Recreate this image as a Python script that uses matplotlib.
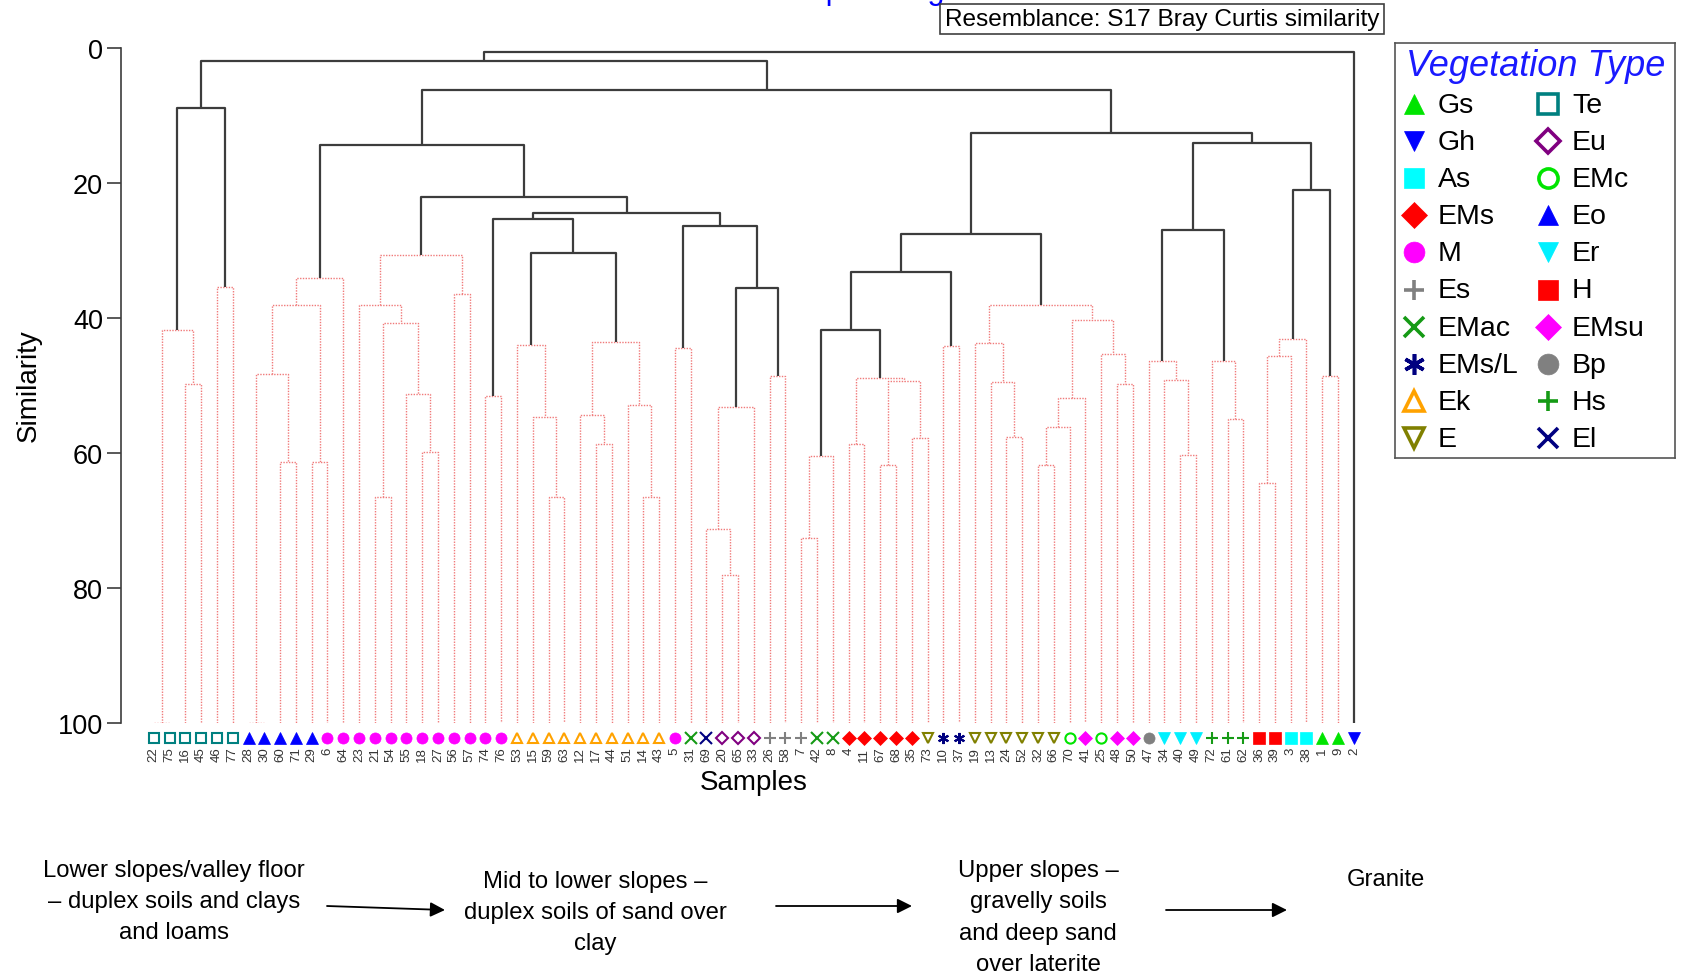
import matplotlib
matplotlib.use("Agg")
import matplotlib.pyplot as plt

W, H = 1682, 978

# ---------------- data ----------------
leaf_order = [22, 75, 16, 45, 46, 77, 28, 30, 60, 71, 29, 6, 64, 23, 21, 54, 55, 18, 27, 56,
              57, 74, 76, 53, 15, 59, 63, 12, 17, 44, 51, 14, 43, 5, 31, 69, 20, 65, 33, 26,
              58, 7, 42, 8, 4, 11, 67, 68, 35, 73, 10, 37, 19, 13, 24, 52, 32, 66, 70, 41,
              25, 48, 50, 47, 34, 40, 49, 72, 61, 62, 36, 39, 3, 38, 1, 9, 2]

leaf_type = ["Te", "Te", "Te", "Te", "Te", "Te",
             "Eo", "Eo", "Eo", "Eo", "Eo",
             "M", "M", "M", "M", "M", "M", "M", "M", "M", "M", "M", "M",
             "Ek", "Ek", "Ek", "Ek", "Ek", "Ek", "Ek", "Ek", "Ek", "Ek",
             "M", "EMac", "El", "Eu", "Eu", "Eu", "Es", "Es", "Es", "EMac", "EMac",
             "EMs", "EMs", "EMs", "EMs", "EMs", "E", "EMs/L", "EMs/L",
             "E", "E", "E", "E", "E", "E", "EMc", "EMsu", "EMc", "EMsu", "EMsu", "Bp",
             "Er", "Er", "Er", "Hs", "Hs", "Hs", "H", "H", "As", "As", "Gs", "Gs", "Gh"]

legend_col1 = ["Gs", "Gh", "As", "EMs", "M", "Es", "EMac", "EMs/L", "Ek", "E"]
legend_col2 = ["Te", "Eu", "EMc", "Eo", "Er", "H", "EMsu", "Bp", "Hs", "El"]

# marker, colour, filled
veg_style = {
    "Gs": ("^", "#00e400", True),
    "Gh": ("v", "#0000ff", True),
    "As": ("s", "#00ffff", True),
    "EMs": ("D", "#ff0000", True),
    "M": ("o", "#ff00ff", True),
    "Es": ("+", "#808080", True),
    "EMac": ("x", "#159a15", True),
    "EMs/L": ((6, 2, 0), "#000080", True),
    "Ek": ("^", "#ffa200", False),
    "E": ("v", "#808000", False),
    "Te": ("s", "#008080", False),
    "Eu": ("D", "#800080", False),
    "EMc": ("o", "#00e400", False),
    "Eo": ("^", "#0000ff", True),
    "Er": ("v", "#00f0ff", True),
    "H": ("s", "#ff0000", True),
    "EMsu": ("D", "#ff00ff", True),
    "Bp": ("o", "#808080", True),
    "Hs": ("+", "#159a15", True),
    "El": ("x", "#000080", True),
}

# (node, left child, right child, similarity %, significant split)
merges = [
    ("a1", 22, 75, 100.0, False), ("a2", 16, 45, 49.7, False), ("a3", "a1", "a2", 41.7, False),
    ("a4", 46, 77, 35.4, False), ("a5", "a3", "a4", 8.9, True),
    ("b1", 28, 30, 100.0, False), ("b2", 60, 71, 61.3, False), ("b3", "b1", "b2", 48.3, False),
    ("b4", 29, 6, 61.3, False), ("b5", "b3", "b4", 38.0, False), ("b6", "b5", 64, 34.1, False),
    ("c1", 21, 54, 66.5, False), ("c2", 18, 27, 59.9, False), ("c3", 55, "c2", 51.3, False),
    ("c4", "c1", "c3", 40.7, False), ("c5", 23, "c4", 38.0, False), ("c6", 56, 57, 36.4, False),
    ("c7", "c5", "c6", 30.7, False),
    ("e1", 74, 76, 51.5, False),
    ("d1", 59, 63, 66.5, False), ("d2", 15, "d1", 54.7, False), ("d3", 53, "d2", 44.0, False),
    ("d4", 17, 44, 58.7, False), ("d5", 12, "d4", 54.3, False), ("d6", 14, 43, 66.5, False),
    ("d7", 51, "d6", 52.9, False), ("d8", "d5", "d7", 43.5, False), ("d9", "d3", "d8", 30.3, True),
    ("e2", "e1", "d9", 25.3, True),
    ("f1", 5, 31, 44.4, False), ("f2", 20, 65, 78.1, False), ("f3", 69, "f2", 71.2, False),
    ("f4", "f3", 33, 53.2, False), ("f5", 26, 58, 48.6, False), ("f6", "f4", "f5", 35.5, True),
    ("f7", "f1", "f6", 26.4, True),
    ("g1", "e2", "f7", 24.4, True), ("h1", "c7", "g1", 22.0, True), ("i1", "b6", "h1", 14.3, True),
    ("j1", 7, 42, 72.6, False), ("j2", "j1", 8, 60.4, False), ("j3", 4, 11, 58.7, False),
    ("j4", 67, 68, 61.7, False), ("j5", 35, 73, 57.7, False), ("j6", "j4", "j5", 49.3, False),
    ("j7", "j3", "j6", 48.9, False), ("j8", "j2", "j7", 41.7, True), ("j9", 10, 37, 44.1, False),
    ("j10", "j8", "j9", 33.2, True),
    ("k1", 24, 52, 57.6, False), ("k2", 13, "k1", 49.4, False), ("k3", 19, "k2", 43.7, False),
    ("k4", 32, 66, 61.7, False), ("k5", "k4", 70, 56.1, False), ("k6", "k5", 41, 51.8, False),
    ("k7", 48, 50, 49.8, False), ("k8", 25, "k7", 45.3, False), ("k9", "k6", "k8", 40.2, False),
    ("k10", "k3", "k9", 38.1, False), ("l1", "j10", "k10", 27.5, True),
    ("m1", 40, 49, 60.3, False), ("m2", 34, "m1", 49.2, False), ("m3", 47, "m2", 46.3, False),
    ("m4", 61, 62, 55.0, False), ("m5", 72, "m4", 46.3, False), ("m6", "m3", "m5", 27.0, True),
    ("g2", 36, 39, 64.5, False), ("g3", "g2", 3, 45.6, False), ("g4", "g3", 38, 43.1, False),
    ("g5", 1, 9, 48.5, False), ("g6", "g4", "g5", 21.0, True), ("m7", "m6", "g6", 14.1, True),
    ("l2", "l1", "m7", 12.5, True), ("n1", "i1", "l2", 6.2, True), ("n2", "a5", "n1", 1.9, True),
    ("root", "n2", 2, 0.5, True),
]

y_ticks = [0, 20, 40, 60, 80, 100]

notes = ["Lower slopes/valley floor\n\u2013 duplex soils and clays\nand loams",
         "Mid to lower slopes \u2013\nduplex soils of sand over\nclay",
         "Upper slopes \u2013\ngravelly soils\nand deep sand\nover laterite",
         "Granite"]

# ---------------- figure ----------------
plt.rcParams['font.family'] = ['Liberation Sans', 'DejaVu Sans']
fig = plt.figure(figsize=(W / 100, H / 100), dpi=100)

def fx(px):
    return px / W

def fy(py):
    return 1 - py / H

ax_l, ax_r, ax_t, ax_b = 121.2, 1370.0, 49.3, 724.0
ax = fig.add_axes([fx(ax_l), fy(ax_b), (ax_r - ax_l) / W, (ax_b - ax_t) / H])
leaf0, step = 153.8, 15.79
ax.set_xlim((ax_l - leaf0) / step, (ax_r - leaf0) / step)
ax.set_ylim(100, 0)

BLACK = "#3c3c3c"
RED = "#f07a7a"

pos = {s: float(i) for i, s in enumerate(leaf_order)}
hgt = {s: 100.0 for s in leaf_order}
for name, a, b, sim, sig in merges:
    xa, xb = pos[a], pos[b]
    if sig:
        kw = dict(color=BLACK, lw=1.6, ls="-", zorder=3)
    else:
        kw = dict(color=RED, lw=1.0, ls=(0, (1, 1)), zorder=2)
    ax.plot([xa, xa, xb, xb], [hgt[a], sim, sim, hgt[b]], solid_capstyle="butt", **kw)
    pos[name] = (xa + xb) / 2
    hgt[name] = sim


def draw_marker(a, x, y, t, ms, mew):
    m, c, filled = veg_style[t]
    if m in ("+", "x") or isinstance(m, tuple):
        a.plot([x], [y], marker=m, color=c, ms=ms, mew=mew, ls="none", clip_on=False, zorder=5)
    elif filled:
        a.plot([x], [y], marker=m, mfc=c, mec=c, ms=ms, mew=0.5, ls="none", clip_on=False, zorder=5)
    else:
        a.plot([x], [y], marker=m, mfc="white", mec=c, ms=ms * 0.92, mew=mew, ls="none",
               clip_on=False, zorder=5)


for i, (s, t) in enumerate(zip(leaf_order, leaf_type)):
    m = veg_style[t][0]
    ms = 7.0 if m in ("D",) else 8.0
    draw_marker(ax, i, 102.2, t, ms, 1.5)
    ax.text(i, 103.5, str(s), rotation=90, ha="center", va="top", fontsize=9.5,
            color="#333333", clip_on=False)

for sp in ("top", "right", "bottom"):
    ax.spines[sp].set_visible(False)
ax.spines["left"].set_color(BLACK)
ax.spines["left"].set_linewidth(1.2)
ax.set_xticks([])
ax.set_yticks(y_ticks)
ax.tick_params(axis="y", length=10, width=1.2, color=BLACK, labelsize=19.5, pad=3)
ax.patch.set_alpha(0)

# ---------------- overlay (pixel coordinates) ----------------
ov = fig.add_axes([0, 0, 1, 1], zorder=-1)
ov.set_xlim(0, W)
ov.set_ylim(H, 0)
ov.set_axis_off()
ov.patch.set_alpha(0)

ov.text(860, -1.5, "Group average", color="#0000ff", fontsize=22, ha="center",
        va="baseline", clip_on=False)
ov.text(1162, 20, "Resemblance: S17 Bray Curtis similarity", ha="center", va="center",
        fontsize=17.6, bbox=dict(boxstyle="square,pad=0.18", fc="white", ec="#404040", lw=1.2))

ov.text(29, 386, "Similarity", rotation=90, ha="center", va="center", fontsize=20)
ov.text(754, 783, "Samples", ha="center", va="center", fontsize=20)

# bottom notes
note_xy = [(174, 902), (595, 913), (1038, 918), (1386, 880)]
for (x, y), txt in zip(note_xy, notes):
    ov.text(x, y, txt, ha="center", va="center", fontsize=17.2, linespacing=1.55)

arrows = [((327, 907), (445, 911)), ((776, 907), (912, 907)), ((1166, 911), (1287, 911))]
for (x0, y0), (x1, y1) in arrows:
    ov.annotate("", xy=(x1, y1), xytext=(x0, y0),
                arrowprops=dict(arrowstyle="-|>", color="black", lw=1.3, mutation_scale=22,
                                shrinkA=0, shrinkB=0))

# ---------------- legend ----------------
lg_l, lg_t, lg_r, lg_b = 1395, 44, 1675, 459
lax = fig.add_axes([fx(lg_l), fy(lg_b), (lg_r - lg_l) / W, (lg_b - lg_t) / H])
lax.set_xlim(0, lg_r - lg_l)
lax.set_ylim(lg_b - lg_t, 0)
lax.set_xticks([])
lax.set_yticks([])
for sp in lax.spines.values():
    sp.set_color("#555555")
    sp.set_linewidth(1.2)
lax.text(141, 23, "Vegetation Type", color="#1a1aff", fontsize=26, style="italic",
         ha="center", va="center")
for k, (t1, t2) in enumerate(zip(legend_col1, legend_col2)):
    yy = 61 + 37.1 * k
    for t, mx, tx in ((t1, 19, 43), (t2, 153, 177)):
        m = veg_style[t][0]
        ms = 13 if m == "D" else 15
        draw_marker(lax, mx, yy, t, ms, 2.6)
        lax.text(tx, yy + 1, t, ha="left", va="center", fontsize=20.5)

fig.savefig("out.png", dpi=100)
